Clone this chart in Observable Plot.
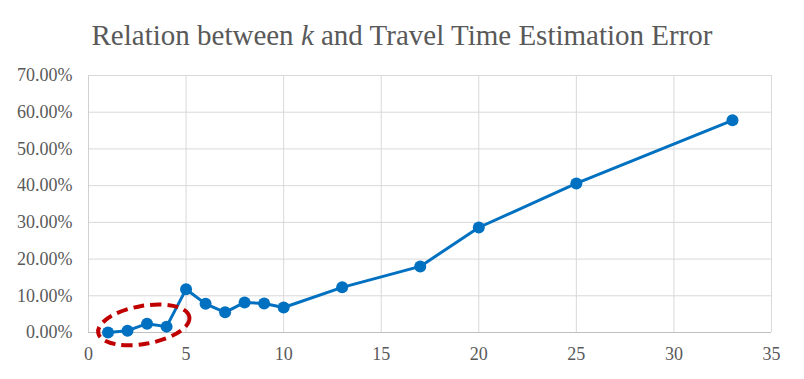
<!DOCTYPE html>
<html><head><meta charset="utf-8">
<script src="https://cdn.jsdelivr.net/npm/d3@7"></script>
<script src="https://cdn.jsdelivr.net/npm/@observablehq/plot@0.6"></script>
<style>
html,body{margin:0;padding:0;background:#fff;}
#title{font-family:"Liberation Serif","Times New Roman",serif;font-size:29px;line-height:29px;color:#595959;text-align:center;height:39px;padding-top:21px;white-space:nowrap;}
#chart svg{display:block;}
</style></head><body>
<div id="title">Relation between <i>k</i> and Travel Time Estimation Error</div>
<div id="chart"></div>
<script>
const kValues = [1, 2, 3, 4, 5, 6, 7, 8, 9, 10, 13, 17, 20, 25, 33];
const errorValues = [0.000, 0.005, 0.024, 0.016, 0.118, 0.078, 0.055, 0.082, 0.079, 0.068, 0.123, 0.180, 0.286, 0.406, 0.578];
const xTicks = [0, 5, 10, 15, 20, 25, 30, 35];
const yTicks = [0, 0.1, 0.2, 0.3, 0.4, 0.5, 0.6, 0.7];
const highlightedK = [1, 2, 3, 4];

const data = kValues.map((k, i) => ({k, err: errorValues[i]}));

// annotation ellipse around the highlighted points, positioned through the scales
function highlightEllipse(index, scales) {
  const pts = data.filter(d => highlightedK.includes(d.k));
  const xs = pts.map(d => scales.x(d.k));
  const ys = pts.map(d => scales.y(d.err));
  const left = Math.min(...xs) - 10, right = Math.max(...xs) + 24;
  const cx = (left + right) / 2, cy = d3.mean(ys) - 3;
  const e = d3.create("svg:ellipse")
    .attr("cx", cx).attr("cy", cy)
    .attr("rx", (right - left) / 2).attr("ry", 19)
    .attr("transform", `rotate(-10 ${cx} ${cy})`)
    .attr("fill", "none").attr("stroke", "#c00000")
    .attr("stroke-width", 4).attr("stroke-dasharray", "11,6");
  return e.node();
}

const chart = Plot.plot({
  width: 804, height: 319,
  marginLeft: 88, marginRight: 33, marginTop: 15, marginBottom: 47,
  style: {fontFamily: "'Liberation Serif','Times New Roman',serif", fontSize: "18px", color: "#595959", background: "#fff", overflow: "visible"},
  x: {domain: [0, 35], ticks: xTicks, label: null, tickSize: 0, tickPadding: 15},
  y: {domain: [0, 0.7], ticks: yTicks, tickFormat: d => (d * 100).toFixed(2) + "%", label: null, tickSize: 0, tickPadding: 16},
  marks: [
    Plot.gridX(xTicks, {stroke: "#d9d9d9", strokeOpacity: 1}),
    Plot.gridY(yTicks, {stroke: "#d9d9d9", strokeOpacity: 1}),
    Plot.ruleX([0], {stroke: "#d0d0d0"}),
    Plot.ruleY([0], {stroke: "#bfbfbf"}),
    Plot.line(data, {x: "k", y: "err", stroke: "#0070c0", strokeWidth: 3}),
    Plot.dot(data, {x: "k", y: "err", r: 6, fill: "#0070c0", stroke: "none"}),
    highlightEllipse
  ]
});
document.getElementById("chart").appendChild(chart);
</script>
</body></html>
